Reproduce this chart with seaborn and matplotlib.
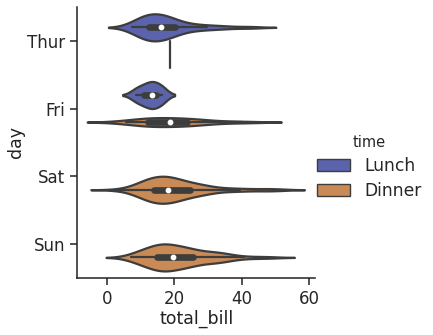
import numpy as np
import pandas as pd
import matplotlib
matplotlib.use("Agg")
import matplotlib.pyplot as plt
from matplotlib.patches import Patch
import seaborn as sns

# total_bill values grouped by day / time
thur_lunch = [27.20, 22.76, 17.29, 19.44, 16.66, 10.07, 32.68, 15.98, 34.83, 13.03, 18.28, 24.71, 21.16,
              10.65, 12.43, 24.08, 11.69, 13.42, 14.26, 15.95, 12.48, 29.80, 8.52, 14.52, 11.38, 22.82,
              19.08, 20.27, 11.17, 12.26, 18.26, 8.51, 10.33, 14.15, 16.00, 13.16, 17.47, 34.30, 41.19,
              27.05, 16.43, 8.35, 18.64, 11.87, 9.78, 7.51,
              19.81, 28.44, 15.48, 16.58, 7.56, 10.34, 43.11, 13.00, 13.51, 18.71, 12.74, 13.00, 16.40,
              20.53, 16.47]
thur_dinner = [18.78]
fri_lunch = [12.16, 13.42, 8.58, 15.98, 13.42, 16.27, 10.09]
fri_dinner = [28.97, 22.49, 5.75, 16.32, 22.75, 40.17, 27.28, 12.03, 21.01, 12.46, 11.35, 15.38]
sat_dinner = [20.65, 17.92, 20.29, 15.77, 39.42, 19.82, 17.81, 13.37, 12.69, 21.70, 19.65, 9.55,
              18.35, 15.06, 20.69, 17.78, 24.06, 16.31, 16.93, 18.69, 31.27, 16.04,
              38.01, 26.41, 11.24, 48.27, 20.29, 13.81, 11.02, 18.29, 17.59, 20.08, 16.45, 3.07,
              20.23, 15.01, 12.02, 17.07, 26.86, 25.28, 14.73, 10.51, 17.92,
              44.30, 22.42, 20.92, 15.36, 20.49, 25.21, 18.24, 14.31, 14.00, 7.25,
              10.59, 10.63, 50.81, 15.81,
              26.59, 38.73, 24.27, 12.76, 30.06, 25.89, 48.33, 13.27, 28.17, 12.90, 28.15, 11.59,
              7.74, 30.14,
              20.45, 13.28, 22.12, 24.01, 15.69, 11.61, 10.77, 15.53, 10.07, 12.60, 32.83, 35.83,
              29.03, 27.18, 22.67, 17.82]
sun_dinner = [16.99, 10.34, 21.01, 23.68, 24.59, 25.29, 8.77, 26.88, 15.04, 14.78, 10.27, 35.26,
              15.42, 18.43, 14.83, 21.58, 10.33, 16.29, 16.97,
              17.46, 13.94, 9.68, 30.40, 18.29, 22.23, 32.40, 28.55, 18.04, 12.54, 10.29, 34.81,
              9.94, 25.56, 19.49,
              38.07, 23.95, 25.71, 17.31, 29.93,
              14.07, 13.13, 17.26, 24.55, 19.77, 29.85, 48.17, 25.00, 13.39, 16.49, 21.50, 12.66,
              16.21, 13.81, 17.51, 24.52, 20.76, 31.71,
              7.25,
              31.85, 16.82, 32.90, 17.89, 14.48, 9.60, 34.63, 34.65, 23.33, 45.35, 23.17, 40.55,
              20.69, 20.90, 30.46, 18.15, 23.10, 15.69]

days = ["Thur", "Fri", "Sat", "Sun"]
times = ["Lunch", "Dinner"]
colors = ["#5a63ab", "#c98a56"]
line_color = "#3d3d3d"

groups = [("Thur", "Lunch", thur_lunch), ("Thur", "Dinner", thur_dinner),
          ("Fri", "Lunch", fri_lunch), ("Fri", "Dinner", fri_dinner),
          ("Sat", "Dinner", sat_dinner), ("Sun", "Dinner", sun_dinner)]
rows = []
for d, t, vals in groups:
    for v in vals:
        rows.append({"day": d, "time": t, "total_bill": v})
df = pd.DataFrame(rows)
df["day"] = pd.Categorical(df["day"], categories=days, ordered=True)
df["time"] = pd.Categorical(df["time"], categories=times, ordered=True)

sns.set_theme(style="ticks")
plt.rcParams["font.family"] = ["DejaVu Sans"]
fig = plt.figure(figsize=(4.33, 3.35), dpi=100)
ax = fig.add_axes([0.1785, 0.171, 0.549, 0.808])

# scale violins within each day (like the older scale_hue behaviour)
for d in days:
    sub = df[df["day"] == d]
    sns.violinplot(data=sub, x="total_bill", y="day", hue="time", order=days, hue_order=times,
                   palette=dict(zip(times, colors)), saturation=1, dodge=True,
                   density_norm="area", common_norm=True,
                   linewidth=1.6, linecolor=line_color,
                   inner="box",
                   inner_kws=dict(box_width=4.8, whis_width=1.6, marker="o", markersize=3.2,
                                  color=line_color),
                   legend=False, ax=ax)

ax.set_xlim(-8.7, 61.7)
ax.set_ylim(3.5, -0.5)
ax.set_xticks([0, 20, 40, 60])
ax.tick_params(labelsize=12, length=5, width=1.1, color="#222222")
for s in ["left", "bottom"]:
    ax.spines[s].set_linewidth(1.1)
    ax.spines[s].set_color("#222222")
sns.despine(ax=ax)
ax.set_xlabel("total_bill", fontsize=12.5, color="#222222", labelpad=1.5)
ax.set_ylabel("day", fontsize=12.5, color="#222222", labelpad=1.5)

handles = [Patch(facecolor=c, edgecolor=line_color, linewidth=1.0) for c in colors]
fig.legend(handles, times, title="time", loc="upper left",
           bbox_to_anchor=(317 / 433, 1 - 135 / 335), bbox_transform=fig.transFigure,
           frameon=False, fontsize=12.3, title_fontsize=10.5, borderpad=0, borderaxespad=0,
           handlelength=1.95, handleheight=0.72, handletextpad=0.8, labelspacing=0.4)

fig.savefig("out.png", dpi=100)
